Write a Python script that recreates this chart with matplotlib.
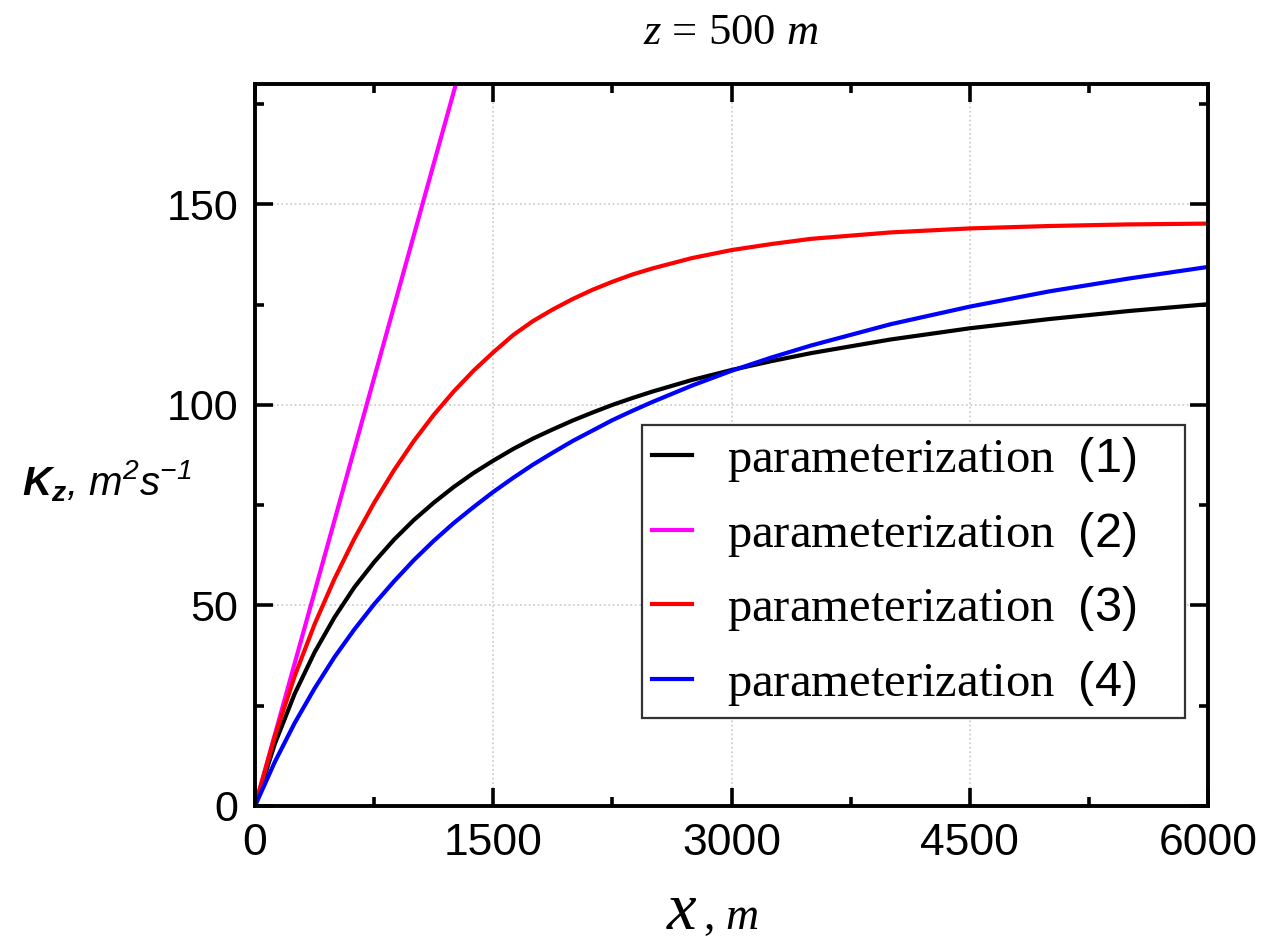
import numpy as np
import matplotlib
matplotlib.use("Agg")
import matplotlib.pyplot as plt
from matplotlib.ticker import MultipleLocator

# шрифты: засечки для текста, Arial-подобный для цифр
plt.rcParams['font.family'] = ['Liberation Sans', 'DejaVu Sans']
plt.rcParams['mathtext.fontset'] = 'custom'
plt.rcParams['mathtext.rm'] = 'Liberation Serif'
plt.rcParams['mathtext.it'] = 'Liberation Serif:italic'
plt.rcParams['mathtext.bf'] = 'Liberation Sans:bold:italic'
plt.rcParams['mathtext.sf'] = 'Liberation Sans'
plt.rcParams['mathtext.tt'] = 'Liberation Sans:italic'

# данные (x в метрах, Kz в m^2/s)
x = [0, 125, 250, 375, 500, 625, 750, 875, 1000, 1125, 1250, 1375, 1500,
     1625, 1750, 1875, 2000, 2125, 2250, 2375, 2500, 2750, 3000, 3250,
     3500, 4000, 4500, 5000, 5500, 6000]
k1 = [0, 15.5, 28.0, 38.3, 47.0, 54.5, 60.8, 66.4, 71.3, 75.6, 79.5, 83.0,
      86.1, 89.0, 91.6, 93.9, 96.1, 98.1, 100.0, 101.7, 103.3, 106.2, 108.7,
      110.9, 112.9, 116.3, 119.1, 121.4, 123.4, 125.1]
k3 = [0, 17.4, 32.4, 45.3, 56.6, 66.6, 75.6, 83.7, 91.0, 97.5, 103.3, 108.5,
      113.1, 117.4, 120.9, 123.8, 126.4, 128.7, 130.7, 132.5, 134.0, 136.6,
      138.6, 140.1, 141.4, 143.0, 144.0, 144.6, 145.0, 145.2]
k4 = [0, 11.0, 20.7, 29.3, 37.1, 44.0, 50.3, 56.0, 61.3, 66.1, 70.5, 74.5,
      78.3, 81.8, 85.1, 88.1, 91.0, 93.6, 96.2, 98.5, 100.7, 104.8, 108.5,
      111.8, 114.8, 120.1, 124.5, 128.3, 131.5, 134.4]
x2 = [0, 1300]
k2 = [0, 185]

labels = ["parameterization  $\\mathsf{(1)}$    ",
          "parameterization  $\\mathsf{(2)}$    ",
          "parameterization  $\\mathsf{(3)}$    ",
          "parameterization  $\\mathsf{(4)}$    "]

fig = plt.figure(figsize=(12.63, 9.42), dpi=100)
ax = fig.add_axes([0.2019, 0.1444, 0.7546, 0.7664])

lw = 3.0
ax.plot(x, k1, color='black', lw=lw, label=labels[0])
ax.plot(x2, k2, color='#ff00ff', lw=lw, label=labels[1])
ax.plot(x, k3, color='#ff0000', lw=lw, label=labels[2])
ax.plot(x, k4, color='#0000ff', lw=lw, label=labels[3])

ax.set_xlim(0, 6000)
ax.set_ylim(0, 180)
ax.xaxis.set_major_locator(MultipleLocator(1500))
ax.xaxis.set_minor_locator(MultipleLocator(750))
ax.yaxis.set_major_locator(MultipleLocator(50))
ax.yaxis.set_minor_locator(MultipleLocator(25))

ax.grid(True, which='major', linestyle=':', color='#c8c8c8', lw=1.2)
ax.tick_params(which='both', direction='in', top=True, right=True, width=2.6)
ax.tick_params(which='major', length=13)
ax.tick_params(which='minor', length=6.5)
ax.tick_params(axis='x', labelsize=32, pad=12)
ax.tick_params(axis='y', labelsize=31, pad=12)
for s in ax.spines.values():
    s.set_linewidth(2.8)

leg = ax.legend(loc='lower right', bbox_to_anchor=(0.976, 0.122),
                borderaxespad=0, fancybox=False, framealpha=1,
                prop={'family': 'Liberation Serif', 'size': 35},
                handlelength=0.82, handletextpad=0.72, labelspacing=0.53,
                borderpad=0.2)
leg.get_frame().set_edgecolor('#333333')
leg.get_frame().set_linewidth(1.6)

# подписи
fig.text(0.5788, 1 - 44 / 942, "$z$ = 500 $m$", family='Liberation Serif',
         size=32, ha='center', va='baseline')
fig.text(698 / 1263, 1 - 929 / 942, "$x$", size=48, ha='right', va='baseline')
fig.text(703 / 1263, 1 - 929 / 942, ", $m$", family='Liberation Serif',
         size=33, ha='left', va='baseline')
fig.text(22 / 1263, 1 - 495 / 942, "$\\mathbf{K_z}\\mathtt{,\\,m^2s^{-1}}$",
         size=29, ha='left', va='baseline')

fig.savefig("out.png", dpi=100)
